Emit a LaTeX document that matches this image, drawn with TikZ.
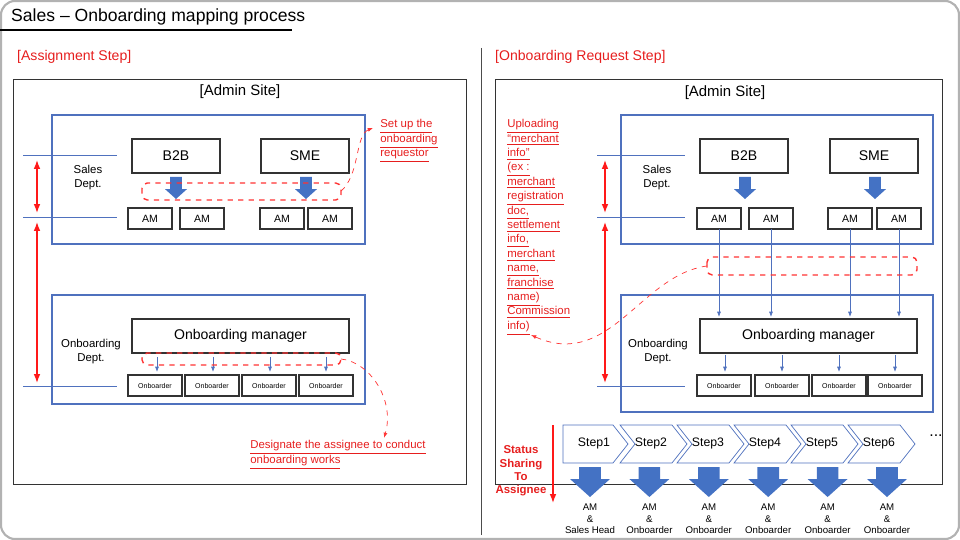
\documentclass[tikz,border=0pt]{standalone}
\usepackage{fontspec}
\setmainfont{Liberation Sans}
\usepackage{tikz}
\usetikzlibrary{calc,arrows.meta}
\definecolor{boxblue}{RGB}{79,113,190}
\definecolor{fillblue}{RGB}{68,114,196}
\definecolor{redtxt}{RGB}{230,30,30}
\newcommand{\ul}[1]{\underline{#1}}
\newcommand{\bigarrow}[4]{% centre x, top y, tip y, head width
  \fill[fillblue] ($(#1,#2)+(-#4*0.27,0)$) -- ($(#1,#2)+(#4*0.27,0)$) -- ($(#1,#3)+(#4*0.27,-#4*0.45)$)
    -- ($(#1,#3)+(#4*0.5,-#4*0.45)$) -- (#1,#3) -- ($(#1,#3)+(-#4*0.5,-#4*0.45)$)
    -- ($(#1,#3)+(-#4*0.27,-#4*0.45)$) -- cycle;}
\tikzset{
  box/.style={draw=black!80,thick,fill=white,inner sep=0pt},
  dept/.style={draw=boxblue,thick},
  redbox/.style={draw=red!80,dashed,rounded corners=3pt,thick},
  redlink/.style={red!80,dashed,-{Latex[length=3pt]}},
  sep/.style={boxblue},
  tick/.style={red!90,thick,{Latex[length=5pt]}-{Latex[length=5pt]}},
  small/.style={-{Latex[length=3pt]},boxblue},
  note/.style={redtxt,font=\fontsize{6.5}{8.2}\selectfont,align=left,inner sep=0pt,anchor=north west}
}
\begin{document}
\begin{tikzpicture}[x=0.02cm,y=-0.02cm]
\useasboundingbox (0,0) rectangle (960,540);
\draw[gray!60,line width=1.2pt,rounded corners=8pt] (1,1) rectangle (959,539);
\node[anchor=west,font=\fontsize{10}{12}\selectfont] (title) at (5,17) {Sales – Onboarding mapping process};
\draw[thick] (0,30) -- (292,30);
\draw[black!70] (481,48) -- (481,535);

%% left: assignment step
\node[anchor=west,redtxt,font=\fontsize{8}{10}\selectfont] (lstep) at (11,57) {[Assignment Step]};
\draw[black!80] (13,79) rectangle (466,484);
\node[font=\fontsize{8.5}{10}\selectfont] (ladmin) at (240,92) {[Admin Site]};
\draw[dept] (52,115) rectangle (365,244);
\draw[dept] (52,295) rectangle (365,404);
\foreach \y in {155,217,386}{\draw[sep] (23,\y) -- (117,\y);}
\draw[tick] (37,160) -- (37,213);
\draw[tick] (37,222) -- (37,383);
\node[align=center,font=\fontsize{6.5}{8}\selectfont] (lsales) at (88,178) {Sales\\Dept.};
\node[align=center,font=\fontsize{6.5}{8}\selectfont] (lonb) at (91,352) {Onboarding\\Dept.};
\draw[box] (132,139) rectangle (220,173) node[midway,font=\fontsize{8}{10}\selectfont]{B2B};
\draw[box] (261,139) rectangle (349,173) node[midway,font=\fontsize{8}{10}\selectfont]{SME};
\bigarrow{176}{177}{199}{22}
\bigarrow{306}{177}{199}{22}
\foreach \x in {128,180,260,308}{
  \draw[box] (\x,208) rectangle ++(44,21) node[midway,font=\fontsize{6}{7}\selectfont]{AM};}
\draw[box] (132,319) rectangle (349,353) node[midway,font=\fontsize{8}{10}\selectfont]{Onboarding manager};
\foreach \x/\c in {128/157,185/213,242/270,299/326}{
  \draw[small] (\c,357) -- (\c,372);
  \draw[box] (\x,375) rectangle ++(54,21) node[midway,font=\fontsize{4}{5}\selectfont]{Onboarder};}
\draw[redbox] (142,183) rectangle (341,200);
\draw[redbox] (142,353) rectangle (341,365);
\coordinate (lr1) at (341,191);
\coordinate (lr2) at (341,359);
\node[note] (setup) at (380,119) {\ul{Set up the}\\\ul{onboarding}\\\ul{requestor}};
\node[note,anchor=north west] (desig) at (250,440) {\ul{Designate the assignee to conduct}\\\ul{onboarding works}};
\draw[redlink] (lr1) .. controls (360,175) and (355,135) .. (373,128);
\draw[redlink] (lr2) .. controls (370,362) and (395,400) .. (384,438);

%% right: onboarding request step
\node[anchor=west,redtxt,font=\fontsize{8}{10}\selectfont] (rstep) at (489,57) {[Onboarding Request Step]};
\draw[black!80] (495,79) rectangle (942,484);
\node[font=\fontsize{8.5}{10}\selectfont] (radmin) at (725,93) {[Admin Site]};
\draw[dept] (621,115) rectangle (933,244);
\draw[dept] (621,295) rectangle (933,412);
\foreach \y in {155,217,386}{\draw[sep] (597,\y) -- (685,\y);}
\draw[tick] (605,160) -- (605,213);
\draw[tick] (605,222) -- (605,383);
\node[align=center,font=\fontsize{6.5}{8}\selectfont] (rsales) at (657,178) {Sales\\Dept.};
\node[align=center,font=\fontsize{6.5}{8}\selectfont] (ronb) at (658,352) {Onboarding\\Dept.};
\draw[box] (700,139) rectangle (788,173) node[midway,font=\fontsize{8}{10}\selectfont]{B2B};
\draw[box] (830,139) rectangle (918,173) node[midway,font=\fontsize{8}{10}\selectfont]{SME};
\bigarrow{745}{177}{199}{22}
\bigarrow{875}{177}{199}{22}
\foreach \x in {697,749,828,877}{
  \draw[box] (\x,208) rectangle ++(44,21) node[midway,font=\fontsize{6}{7}\selectfont]{AM};
  \draw[small] ($(\x,229)+(22,0)$) -- ($(\x,317)+(22,0)$);}
\draw[box] (700,319) rectangle (917,353) node[midway,font=\fontsize{8}{10}\selectfont]{Onboarding manager};
\foreach \x/\c in {697/725,755/782,812/839,868/895}{
  \draw[small] (\c,355) -- (\c,372);
  \draw[box] (\x,375) rectangle ++(54,21) node[midway,font=\fontsize{4}{5}\selectfont]{Onboarder};}
\draw[redbox] (707,257) rectangle (917,275);
\coordinate (rr) at (707,266);
\node[note] (upload) at (507,119) {\ul{Uploading}\\\ul{“merchant}\\\ul{info”}\\\ul{(ex :}\\\ul{merchant}\\\ul{registration}\\\ul{doc,}\\\ul{settlement}\\\ul{info,}\\\ul{merchant}\\\ul{name,}\\\ul{franchise}\\\ul{name)}\\\ul{Commission}\\\ul{info)}};
\draw[redlink] (rr) .. controls (640,275) and (610,370) .. (531,335);

%% steps
\foreach \i in {1,...,6}{
  \pgfmathsetmacro{\xl}{563+57*(\i-1)}
  \ifnum\i=1
    \draw[boxblue,fill=white] (\xl,425) -- ++(50,0) -- ++(15,19) -- ++(-15,19) -- ++(-50,0) -- cycle;
  \else
    \draw[boxblue,fill=white] (\xl,425) -- ++(52,0) -- ++(15,19) -- ++(-15,19) -- ++(-52,0) -- ++(15,-19) -- cycle;
  \fi
  \node[font=\fontsize{7}{8}\selectfont] (step\i) at (\xl+31,443) {Step\i};
  \pgfmathsetmacro{\xc}{590+59.4*(\i-1)}
  \bigarrow{\xc}{467}{497}{40}
}
\node[font=\fontsize{9}{9}\selectfont] (dots) at (936,436) {...};
\node[align=center,font=\fontsize{5.5}{6.6}\selectfont] (who1) at (590,519) {AM\\\&\\Sales Head};
\foreach \i in {2,...,6}{
  \pgfmathsetmacro{\xc}{590+59.4*(\i-1)}
  \node[align=center,font=\fontsize{5.5}{6.6}\selectfont] (who\i) at (\xc,519) {AM\\\&\\Onboarder};}
\node[align=center,redtxt,font=\bfseries\fontsize{6.5}{7.6}\selectfont] (share) at (521,471) {Status\\Sharing\\To\\Assignee};
\draw[red!90,thick,-{Latex[length=5pt]}] (553,425) -- (553,503);
\end{tikzpicture}
\end{document}
